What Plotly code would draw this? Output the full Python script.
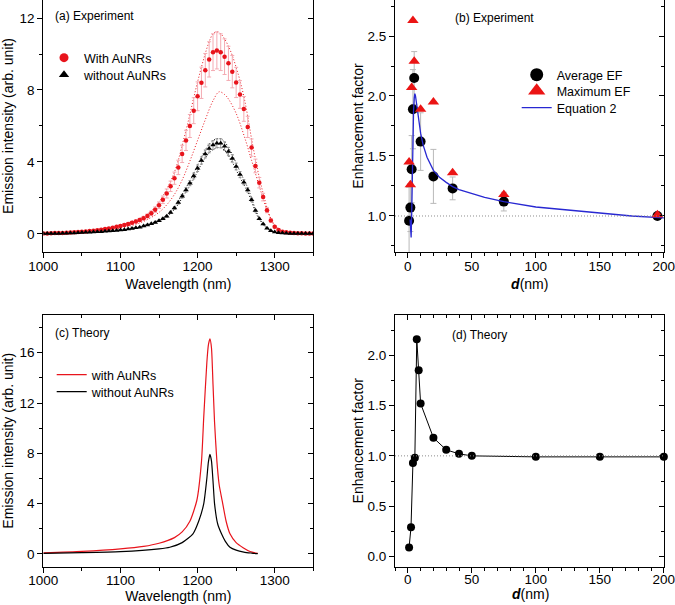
import plotly.graph_objects as go

# ---------------- (a) Experiment spectra ----------------
wavelength_a = list(range(1000, 1351, 5))
with_aunrs = [0.03, 0.03, 0.04, 0.05, 0.05, 0.06, 0.07, 0.08, 0.09, 0.11,
              0.12, 0.14, 0.16, 0.18, 0.21, 0.24, 0.27, 0.31, 0.35, 0.40,
              0.45, 0.50, 0.56, 0.63, 0.70, 0.78, 0.88, 1.00, 1.15, 1.35,
              1.60, 1.90, 2.25, 2.65, 3.10, 3.70, 4.45, 5.20, 6.00, 6.85,
              7.65, 8.40, 9.10, 9.70, 10.10, 10.20, 10.10, 9.85, 9.48, 9.02,
              8.42, 7.75, 6.95, 5.95, 4.80, 3.78, 2.85, 2.05, 1.32, 0.75,
              0.40, 0.22, 0.13, 0.09, 0.07, 0.05, 0.04, 0.04, 0.03, 0.03, 0.03]
with_aunrs_err = [0.01, 0.01, 0.01, 0.01, 0.01, 0.01, 0.01, 0.01, 0.01, 0.02,
                  0.02, 0.02, 0.02, 0.02, 0.03, 0.03, 0.03, 0.04, 0.04, 0.05,
                  0.05, 0.06, 0.06, 0.07, 0.08, 0.09, 0.10, 0.11, 0.13, 0.15,
                  0.18, 0.21, 0.25, 0.29, 0.34, 0.40, 0.48, 0.56, 0.64, 0.72,
                  0.80, 0.87, 0.93, 0.98, 1.02, 1.03, 1.02, 0.99, 0.95, 0.90,
                  0.84, 0.77, 0.69, 0.59, 0.48, 0.38, 0.29, 0.21, 0.14, 0.08,
                  0.05, 0.03, 0.02, 0.01, 0.01, 0.01, 0.01, 0.01, 0.01, 0.01, 0.01]
without_aunrs = [0.02, 0.02, 0.03, 0.03, 0.03, 0.04, 0.04, 0.05, 0.06, 0.07,
                 0.08, 0.09, 0.10, 0.11, 0.12, 0.13, 0.15, 0.16, 0.18, 0.20,
                 0.22, 0.24, 0.27, 0.30, 0.34, 0.38, 0.44, 0.50, 0.57, 0.64,
                 0.74, 0.85, 0.98, 1.20, 1.44, 1.75, 2.10, 2.45, 2.82, 3.22,
                 3.65, 4.08, 4.45, 4.75, 4.94, 5.04, 5.04, 4.88, 4.58, 4.20,
                 3.75, 3.30, 2.88, 2.45, 1.90, 1.30, 0.85, 0.55, 0.32, 0.18,
                 0.11, 0.07, 0.05, 0.04, 0.03, 0.03, 0.02, 0.02, 0.02, 0.02, 0.02]
without_aunrs_err = [0.01] * 20 + [
                 0.01, 0.01, 0.02, 0.02, 0.02, 0.02, 0.03, 0.03, 0.03, 0.03,
                 0.04, 0.04, 0.05, 0.06, 0.07, 0.09, 0.10, 0.12, 0.14, 0.16,
                 0.18, 0.20, 0.22, 0.24, 0.25, 0.25, 0.25, 0.24, 0.23, 0.21,
                 0.19, 0.17, 0.14, 0.12, 0.10, 0.07, 0.04, 0.03, 0.02, 0.01] + [0.01] * 11
lower_wl = [1000, 1010, 1020, 1030, 1040, 1050, 1060, 1070, 1080, 1090, 1100,
            1110, 1120, 1130, 1140, 1150, 1160, 1170, 1180, 1190, 1200, 1210,
            1220, 1228, 1235, 1240, 1250, 1260, 1270, 1280, 1290, 1300, 1310,
            1320, 1330, 1340, 1350]
lower_with = [0.02, 0.03, 0.04, 0.05, 0.07, 0.09, 0.11, 0.15, 0.20, 0.26, 0.33,
              0.42, 0.54, 0.70, 0.92, 1.20, 1.62, 2.20, 3.00, 4.05, 5.20, 6.35,
              7.40, 7.90, 7.75, 7.50, 6.70, 5.50, 4.10, 2.65, 1.35, 0.50, 0.15,
              0.06, 0.04, 0.03, 0.02]

# ---------------- (b) Experiment enhancement ----------------
d_exp = [1, 2, 3, 4, 5, 10, 20, 35, 75, 195]
avg_ef = [0.96, 1.07, 1.39, 1.89, 2.15, 1.62, 1.33, 1.23, 1.12, 1.00]
avg_ef_err = [0.28, 0.20, 0.28, 0.33, 0.22, 0.24, 0.225, 0.095, 0.078, 0.02]
max_ef = [1.45, 1.26, 2.07, 2.63, 2.29, 1.89, 1.95, 1.36, 1.18, 1.01]
eq2_d = [1.8, 2.2, 2.6, 3.0, 3.5, 4.0, 4.5, 5.0, 5.5, 6.0, 7.0, 8.0, 10, 12,
         15, 20, 25, 30, 35, 40, 50, 60, 75, 90, 100, 125, 150, 175, 200]
eq2_ef = [0.97, 0.86, 0.82, 1.00, 1.38, 1.70, 1.88, 1.98, 2.02, 2.00, 1.92,
          1.82, 1.69, 1.59, 1.49, 1.38, 1.32, 1.28, 1.245, 1.22, 1.185, 1.155,
          1.12, 1.09, 1.075, 1.05, 1.025, 1.00, 0.985]
reference_ef = 1.0

# ---------------- (c) Theory spectra ----------------
wl_theory_with = [1000, 1050, 1100, 1130, 1150, 1170, 1180, 1190, 1199, 1205,
                  1208, 1212, 1214, 1216, 1218, 1220, 1222, 1225, 1228, 1232,
                  1237, 1242, 1250, 1259, 1268, 1278]
theory_with = [0.08, 0.2, 0.4, 0.6, 0.85, 1.3, 1.75, 2.6, 4.25, 7.3,
               10.9, 15.2, 16.6, 17.1, 16.4, 13.5, 10.5, 7.4, 5.5, 4.2,
               2.6, 1.6, 0.9, 0.5, 0.2, 0.04]
wl_theory_without = [1000, 1050, 1100, 1150, 1164, 1180, 1194, 1202, 1208,
                     1212, 1214, 1216, 1218, 1220, 1222, 1226, 1231, 1236,
                     1242, 1250, 1260, 1270, 1278]
theory_without = [0.05, 0.1, 0.18, 0.4, 0.53, 0.9, 1.6, 2.7, 4.0, 6.0,
                  7.3, 7.92, 7.4, 5.8, 4.0, 2.4, 1.6, 1.0, 0.53, 0.3, 0.15,
                  0.07, 0.02]

# ---------------- (d) Theory enhancement ----------------
d_theory = [1, 2.5, 4, 5.5, 7, 8.5, 10, 20, 30, 40, 50, 100, 150, 200]
ef_theory = [0.09, 0.29, 0.93, 0.98, 2.16, 1.85, 1.52, 1.18, 1.06, 1.02,
             1.00, 0.99, 0.99, 0.99]

RED = "rgb(232,20,28)"
PINK = "rgb(244,170,178)"
BLUE = "rgb(40,40,210)"
FONT = "Liberation Sans, Arial, sans-serif"

fig = go.Figure()

# panel (a)
upper_with = [v + e for v, e in zip(with_aunrs, with_aunrs_err)]
upper_without = [v + e for v, e in zip(without_aunrs, without_aunrs_err)]
lower_without = [v - e for v, e in zip(without_aunrs, without_aunrs_err)]
dot_line = dict(width=1, dash="1px,2px")
fig.add_trace(go.Scatter(x=wavelength_a, y=upper_with, mode="lines", line=dict(color=RED, shape="spline", **dot_line), showlegend=False, xaxis="x", yaxis="y"))
fig.add_trace(go.Scatter(x=lower_wl, y=lower_with, mode="lines", line=dict(color=RED, shape="spline", **dot_line), showlegend=False, xaxis="x", yaxis="y"))
fig.add_trace(go.Scatter(x=wavelength_a, y=upper_without, mode="lines", line=dict(color="black", shape="spline", **dot_line), showlegend=False, xaxis="x", yaxis="y"))
fig.add_trace(go.Scatter(x=wavelength_a, y=lower_without, mode="lines", line=dict(color="black", shape="spline", **dot_line), showlegend=False, xaxis="x", yaxis="y"))
fig.add_trace(go.Scatter(x=wavelength_a, y=with_aunrs, mode="markers",
                         marker=dict(color=RED, size=4.5, symbol="circle"),
                         error_y=dict(type="data", array=with_aunrs_err, color=PINK, thickness=1, width=2),
                         showlegend=False, xaxis="x", yaxis="y"))
fig.add_trace(go.Scatter(x=wavelength_a, y=without_aunrs, mode="markers",
                         marker=dict(color="black", size=5, symbol="triangle-up"),
                         error_y=dict(type="data", array=without_aunrs_err, color="rgb(150,150,150)", thickness=1, width=1.5),
                         showlegend=False, xaxis="x", yaxis="y"))
fig.add_trace(go.Scatter(x=[None], y=[None], mode="markers", name="With AuNRs",
                         marker=dict(color=RED, size=9, symbol="circle"), legend="legend", xaxis="x", yaxis="y"))
fig.add_trace(go.Scatter(x=[None], y=[None], mode="markers", name="without AuNRs",
                         marker=dict(color="black", size=9, symbol="triangle-up"), legend="legend2", xaxis="x", yaxis="y"))

# panel (b)
fig.add_trace(go.Scatter(x=d_exp, y=avg_ef, mode="markers",
                         marker=dict(color="black", size=10, symbol="circle"),
                         error_y=dict(type="data", array=avg_ef_err, color="rgb(185,185,185)", thickness=1, width=3),
                         showlegend=False, cliponaxis=False, xaxis="x2", yaxis="y2"))
fig.add_trace(go.Scatter(x=eq2_d, y=eq2_ef, mode="lines", line=dict(color=BLUE, width=1.3),
                         showlegend=False, xaxis="x2", yaxis="y2"))
fig.add_trace(go.Scatter(x=d_exp, y=max_ef, mode="markers",
                         marker=dict(color="rgb(235,20,20)", size=10, symbol="triangle-up"),
                         showlegend=False, cliponaxis=False, xaxis="x2", yaxis="y2"))
fig.add_trace(go.Scatter(x=[None], y=[None], mode="markers", name="Average EF",
                         marker=dict(color="black", size=13, symbol="circle"), legend="legend3", xaxis="x2", yaxis="y2"))
fig.add_trace(go.Scatter(x=[None], y=[None], mode="markers", name="Maximum EF",
                         marker=dict(color="rgb(235,20,20)", size=15, symbol="triangle-up"), legend="legend4", xaxis="x2", yaxis="y2"))
fig.add_trace(go.Scatter(x=[None], y=[None], mode="lines", name="Equation 2",
                         line=dict(color=BLUE, width=1.3), legend="legend5", xaxis="x2", yaxis="y2"))

# panel (c)
fig.add_trace(go.Scatter(x=wl_theory_with, y=theory_with, mode="lines", name="with AuNRs",
                         line=dict(color=RED, width=1.2, shape="spline", smoothing=0.6), legend="legend6", xaxis="x3", yaxis="y3"))
fig.add_trace(go.Scatter(x=wl_theory_without, y=theory_without, mode="lines", name="without AuNRs",
                         line=dict(color="black", width=1.2, shape="spline", smoothing=0.6), legend="legend7", xaxis="x3", yaxis="y3"))

# panel (d)
fig.add_trace(go.Scatter(x=d_theory, y=ef_theory, mode="lines+markers",
                         line=dict(color="black", width=1), marker=dict(color="black", size=8),
                         showlegend=False, cliponaxis=False, xaxis="x4", yaxis="y4"))

# dummy traces for mirrored (inward) tick axes
for i in range(5, 9):
    fig.add_trace(go.Scatter(x=[None], y=[None], showlegend=False, hoverinfo="skip",
                             xaxis=f"x{i}", yaxis=f"y{i}"))

XA = [0.0642, 0.4641]
XB = [0.5852, 0.9844]
YT = [0.5835, 1.0]
YB = [0.0636, 0.4793]


def axis(domain, rng, tick0, dtick, mdtick, anchor, title=None, standoff=6, labels=True,
         ticks="outside", side=None, overlaying=None, showline=True, fmt=None, lstand=0):
    d = dict(domain=domain, range=rng, tick0=tick0, dtick=dtick, ticks=ticks, ticklen=5,
             tickwidth=1, tickcolor="black", automargin=False, ticklabeloverflow="allow",
             minor=dict(ticks=ticks, ticklen=3, tick0=tick0, dtick=mdtick, tickcolor="black", tickwidth=1),
             showline=showline, linecolor="black", linewidth=1, mirror=False, showgrid=False,
             zeroline=False, showticklabels=labels, anchor=anchor,
             tickfont=dict(size=13.5, color="black", family=FONT))
    if lstand:
        d["ticklabelstandoff"] = lstand
    if fmt:
        d["tickformat"] = fmt
    if title:
        d["title"] = dict(text=title, font=dict(size=14, color="black", family=FONT), standoff=standoff)
    if side:
        d["side"] = side
    if overlaying:
        d["overlaying"] = overlaying
    return d


layout = dict(
    template="none",
    width=675, height=605, autosize=False,
    margin=dict(l=0, r=0, t=0, b=0, pad=0),
    paper_bgcolor="white", plot_bgcolor="rgba(0,0,0,0)",
    font=dict(family=FONT, color="black"),
    hovermode=False,
    xaxis=axis(XA, [1000, 1350], 1000, 100, 50, "y", "Wavelength (nm)", 6, lstand=-3),
    yaxis=axis(YT, [-1, 13], 0, 4, 2, "x", "Emission intensity (arb. unit)", 6),
    xaxis2=axis(XB, [-10, 200.5], 0, 50, 10, "y2", "<b><i>d</i></b>(nm)", 6, lstand=-3),
    yaxis2=axis(YT, [0.7, 2.8], 0, 0.5, 0.25, "x2", "Enhancement factor", 0, fmt=".1f"),
    xaxis3=axis(XA, [1000, 1350], 1000, 100, 50, "y3", "Wavelength (nm)", 4, lstand=-4),
    yaxis3=axis(YB, [-1, 19], 0, 4, 2, "x3", "Emission intensity (arb. unit)", 6),
    xaxis4=axis(XB, [-10, 200.5], 0, 50, 10, "y4", lstand=-5),
    yaxis4=axis(YB, [-0.1, 2.4], 0, 0.5, 0.25, "x4", "Enhancement factor", 0, fmt=".1f"),
    # mirrored axes with inward ticks
    xaxis5=axis(XA, [1000, 1350], 1000, 100, 50, "y5", labels=False, ticks="", side="top", overlaying="x", showline=False),
    yaxis5=axis(YT, [-1, 13], 0, 4, 2, "x5", labels=False, ticks="inside", side="right", overlaying="y"),
    xaxis6=axis(XB, [-10, 200.5], 0, 50, 10, "y6", labels=False, ticks="", side="top", overlaying="x2", showline=False),
    yaxis6=axis(YT, [0.7, 2.8], 0, 0.5, 0.25, "x6", labels=False, ticks="inside", side="right", overlaying="y2"),
    xaxis7=axis(XA, [1000, 1350], 1000, 100, 50, "y7", labels=False, ticks="inside", side="top", overlaying="x3"),
    yaxis7=axis(YB, [-1, 19], 0, 4, 2, "x7", labels=False, ticks="inside", side="right", overlaying="y3"),
    xaxis8=axis(XB, [-10, 200.5], 0, 50, 10, "y8", labels=False, ticks="inside", side="top", overlaying="x4"),
    yaxis8=axis(YB, [-0.1, 2.4], 0, 0.5, 0.25, "x8", labels=False, ticks="inside", side="right", overlaying="y4"),
)

H = 605.0
W = 675.0


def leg(px_left, py_center):
    return dict(x=px_left / W, y=1 - py_center / H, xanchor="left", yanchor="middle",
                bgcolor="rgba(0,0,0,0)", borderwidth=0,
                font=dict(size=12.5, color="black", family=FONT))


layout["legend"] = leg(44, 58)
layout["legend2"] = leg(44, 75)
layout["legend3"] = leg(516.7, 75)
layout["legend4"] = leg(516.7, 91)
layout["legend5"] = leg(516.7, 108)
layout["legend6"] = leg(51.7, 375)
layout["legend7"] = leg(51.7, 392)

layout["shapes"] = [
    dict(type="line", xref="x2 domain", x0=0, x1=1, yref="y2", y0=reference_ef, y1=reference_ef,
         line=dict(color="rgb(140,140,140)", width=1, dash="1px,2px")),
    dict(type="line", xref="x4 domain", x0=0, x1=1, yref="y4", y0=reference_ef, y1=reference_ef,
         line=dict(color="rgb(140,140,140)", width=1, dash="1px,2px")),
]


def label(text, px, py, size=12, anchor="left"):
    return dict(text=text, x=px / W, y=1 - py / H, xref="paper", yref="paper",
                xanchor=anchor, yanchor="middle", showarrow=False,
                font=dict(size=size, color="black", family=FONT))


layout["annotations"] = [
    label("(a) Experiment", 53, 16),
    label("(b) Experiment", 453, 18),
    label("(c) Theory", 53, 333),
    label("(d) Theory", 450, 335),
    label("<b><i>d</i></b>(nm)", 530, 594, size=14, anchor="center"),
]

fig.update_layout(**layout)
fig.write_html("out.html", config={"displayModeBar": False, "staticPlot": True},
               post_script="document.body.style.margin='0px';")
